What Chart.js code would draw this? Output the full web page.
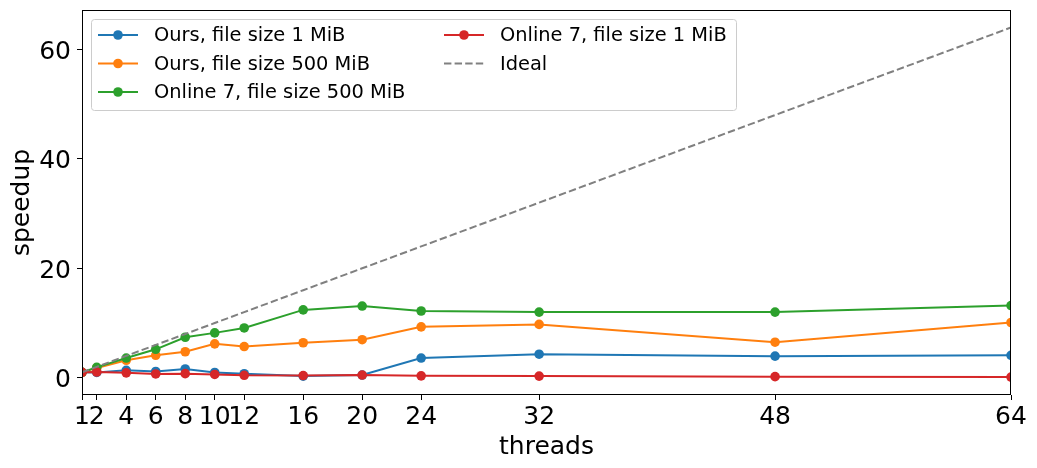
<!DOCTYPE html>
<html>
<head>
<meta charset="utf-8">
<script src="https://cdn.jsdelivr.net/npm/chart.js@4"></script>
<style>
html,body{margin:0;padding:0;background:#fff;}
#wrap{width:1037px;height:468px;position:relative;}
</style>
</head>
<body>
<div id="wrap"><canvas id="c" width="1037" height="468"></canvas></div>
<script>
const threads = [1, 2, 4, 6, 8, 10, 12, 16, 20, 24, 32, 48, 64];
const oursSmall = [1.0, 0.97, 1.35, 1.15, 1.6, 0.97, 0.73, 0.3, 0.5, 3.6, 4.3, 3.95, 4.1];
const oursLarge = [1.0, 1.8, 3.2, 4.1, 4.75, 6.2, 5.7, 6.4, 6.95, 9.3, 9.75, 6.5, 10.1];
const online7Large = [1.0, 1.9, 3.6, 5.2, 7.4, 8.2, 9.1, 12.4, 13.1, 12.2, 12.0, 12.0, 13.2];
const online7Small = [1.0, 1.05, 0.9, 0.7, 0.75, 0.6, 0.45, 0.4, 0.5, 0.35, 0.3, 0.2, 0.12];
const ideal = threads.slice();
const xTicks = [1, 2, 4, 6, 8, 10, 12, 16, 20, 24, 32, 48, 64];
const yTicks = [0, 20, 40, 60];
const seriesNames = ["Ours, file size 1 MiB", "Ours, file size 500 MiB", "Online 7, file size 500 MiB", "Online 7, file size 1 MiB", "Ideal"];

const FONT = "'DejaVu Sans', sans-serif";
const pts = arr => threads.map((t, i) => ({x: t, y: arr[i]}));

function series(label, data, color, order) {
  return {
    label, data: pts(data), borderColor: color, backgroundColor: color,
    borderWidth: 2, pointRadius: 4.8, pointHoverRadius: 4.8, pointBorderWidth: 0,
    pointBackgroundColor: color, tension: 0, order, clip: 0
  };
}

const datasets = [
  series(seriesNames[0], oursSmall, '#1f77b4', 4),
  series(seriesNames[1], oursLarge, '#ff7f0e', 3),
  series(seriesNames[2], online7Large, '#2ca02c', 2),
  series(seriesNames[3], online7Small, '#d62728', 1),
  {
    label: seriesNames[4], data: pts(ideal), borderColor: '#808080', borderWidth: 2,
    borderDash: [7.4, 3.2], pointRadius: 0, pointHoverRadius: 0, tension: 0, order: 0, clip: 0
  }
];

const framePlugin = {
  id: 'frame',
  afterDraw(chart) {
    const ctx = chart.ctx, a = chart.chartArea;
    ctx.save();
    ctx.strokeStyle = '#000';
    ctx.lineWidth = 1;
    ctx.strokeRect(Math.round(a.left) + 0.5, Math.round(a.top) + 0.5,
                   Math.round(a.right - a.left) - 1, Math.round(a.bottom - a.top) - 1);
    // legend
    const bx = 91.5, by = 19.5, bw = 645, bh = 91, r = 3;
    ctx.beginPath();
    ctx.moveTo(bx + r, by);
    ctx.arcTo(bx + bw, by, bx + bw, by + bh, r);
    ctx.arcTo(bx + bw, by + bh, bx, by + bh, r);
    ctx.arcTo(bx, by + bh, bx, by, r);
    ctx.arcTo(bx, by, bx + bw, by, r);
    ctx.closePath();
    ctx.fillStyle = 'rgba(255,255,255,0.8)';
    ctx.fill();
    ctx.strokeStyle = '#cccccc';
    ctx.stroke();
    const pos = [[98, 35], [98, 63.5], [98, 92], [444, 35], [444, 63.5]];
    ctx.font = '19.4px ' + FONT;
    ctx.textBaseline = 'middle';
    chart.data.datasets.forEach((ds, i) => {
      const [x, y] = pos[i];
      ctx.save();
      ctx.strokeStyle = ds.borderColor;
      ctx.lineWidth = 2;
      if (ds.borderDash) ctx.setLineDash(ds.borderDash);
      ctx.beginPath();
      ctx.moveTo(x, y); ctx.lineTo(x + 40, y);
      ctx.stroke();
      ctx.restore();
      if (ds.pointRadius > 0) {
        ctx.beginPath();
        ctx.arc(x + 20, y, 4.8, 0, Math.PI * 2);
        ctx.fillStyle = ds.borderColor;
        ctx.fill();
      }
      ctx.fillStyle = '#000';
      ctx.textAlign = 'left';
      ctx.fillText(ds.label, x + 56, y + 1);
    });
    ctx.restore();
  }
};

new Chart(document.getElementById('c'), {
  type: 'line',
  data: {datasets},
  options: {
    responsive: false,
    animation: false,
    events: [],
    layout: {padding: {left: 0, right: 26, top: 10, bottom: 0}},
    plugins: {legend: {display: false}, tooltip: {enabled: false}},
    scales: {
      x: {
        type: 'linear', min: 1, max: 64,
        afterBuildTicks: s => { s.ticks = xTicks.map(v => ({value: v})); },
        afterFit: s => { s.height = 73; s.paddingLeft = 0; s.paddingRight = 0; },
        grid: {display: true, drawOnChartArea: false, drawTicks: true, tickLength: 5, color: '#000', tickWidth: 1},
        border: {display: false},
        ticks: {autoSkip: false, maxRotation: 0, minRotation: 0, padding: 2, color: '#000',
                font: {family: FONT, size: 25}, callback: v => String(v)},
        title: {display: true, text: 'threads', color: '#000', font: {family: FONT, size: 25}, padding: {top: 0, bottom: 6}}
      },
      y: {
        type: 'linear', min: -3.15, max: 67.2,
        afterBuildTicks: s => { s.ticks = yTicks.map(v => ({value: v})); },
        afterFit: s => { s.width = 82; s.paddingTop = 0; s.paddingBottom = 0; },
        grid: {display: true, drawOnChartArea: false, drawTicks: true, tickLength: 5, color: '#000', tickWidth: 1},
        border: {display: false},
        ticks: {padding: 6, labelOffset: 3, color: '#000', font: {family: FONT, size: 25}, callback: v => String(v)},
        title: {display: true, text: 'speedup', color: '#000', font: {family: FONT, size: 25}, padding: {top: 7, bottom: 0}}
      }
    }
  },
  plugins: [framePlugin]
});
</script>
</body>
</html>
